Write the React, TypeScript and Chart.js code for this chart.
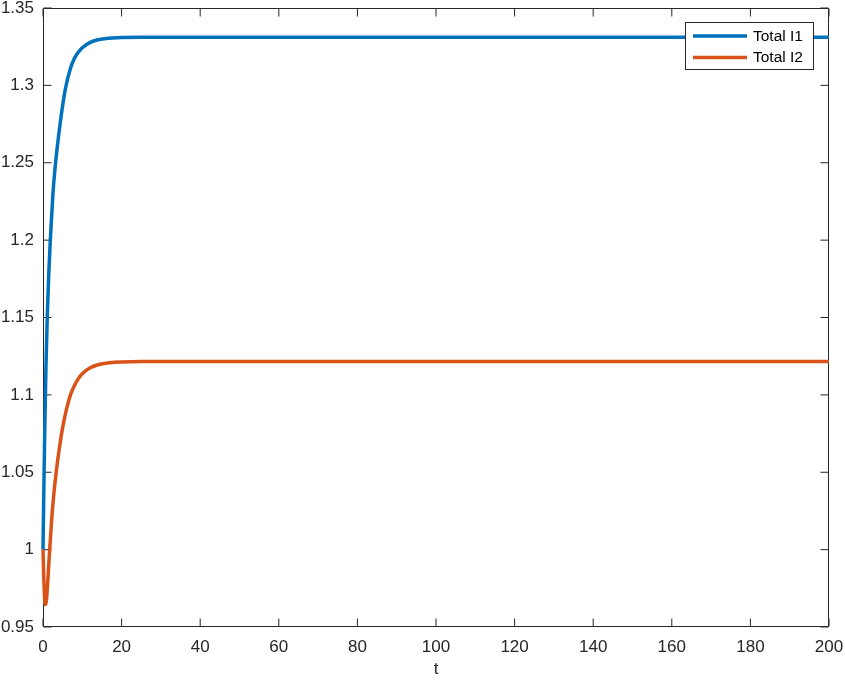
import React, { useEffect, useRef } from "react";
import { Chart, registerables } from "chart.js";

Chart.register(...registerables);

// ---- data ----
const seriesLabels = ["Total I1", "Total I2"];
const seriesColors = ["#0072BD", "#D95319"];

const tI1 = [0, 0.25, 0.5, 0.75, 1.1, 1.5, 1.86, 2.5, 3.2, 4, 5, 5.8, 7, 8, 9, 10, 12, 14, 17, 20, 25, 200];
const totalI1 = [1.0, 1.045, 1.085, 1.118, 1.152, 1.18, 1.2, 1.229, 1.25, 1.268, 1.287, 1.299, 1.311, 1.3175, 1.3215, 1.3243, 1.3278, 1.3295, 1.3305, 1.3309, 1.3311, 1.3311];

const tI2 = [0, 0.2, 0.4, 0.6, 0.8, 1.0, 1.3, 1.7, 2.2, 2.8, 3.4, 4.3, 5, 6, 7, 8, 9, 10, 12, 14, 17, 20, 25, 200];
const totalI2 = [1.0, 0.982, 0.969, 0.9645, 0.966, 0.971, 0.983, 1.0, 1.019, 1.037, 1.051, 1.068, 1.079, 1.091, 1.1, 1.106, 1.1105, 1.1137, 1.1175, 1.1195, 1.1208, 1.1213, 1.1216, 1.1216];

const xMin = 0;
const xMax = 200;
const xStep = 20;
const yMin = 0.95;
const yMax = 1.35;
const yStep = 0.05;
const xTitle = "t";

// ---- styles ----
const AXIS_COLOR = "#262626";
const FONT_FAMILY = "'Liberation Sans', Arial, Helvetica, sans-serif";
const TICK_LEN = 8;

const boxPlugin = {
  id: "matlabBox",
  beforeDatasetsDraw(chart: any) {
    const { ctx, chartArea } = chart;
    const { left, right, top, bottom } = chartArea;
    const xs = chart.scales.x;
    const ys = chart.scales.y;
    ctx.save();
    ctx.strokeStyle = AXIS_COLOR;
    ctx.lineWidth = 1;
    const l = Math.round(left) + 0.5;
    const r = Math.round(right) - 0.5;
    const t = Math.round(top) + 0.5;
    const b = Math.round(bottom) - 0.5;
    ctx.beginPath();
    ctx.rect(l, t, r - l, b - t);
    ctx.stroke();
    ctx.beginPath();
    xs.ticks.forEach((tk: any) => {
      const px = xs.getPixelForValue(tk.value);
      ctx.moveTo(px, b);
      ctx.lineTo(px, b - TICK_LEN);
      ctx.moveTo(px, t);
      ctx.lineTo(px, t + TICK_LEN);
    });
    ys.ticks.forEach((tk: any) => {
      const py = ys.getPixelForValue(tk.value);
      ctx.moveTo(l, py);
      ctx.lineTo(l + TICK_LEN, py);
      ctx.moveTo(r, py);
      ctx.lineTo(r - TICK_LEN, py);
    });
    ctx.stroke();
    ctx.restore();
  },
};

const legendPlugin = {
  id: "matlabLegend",
  afterDraw(chart: any) {
    const { ctx, chartArea } = chart;
    const boxW = 129;
    const boxH = 48;
    const x0 = Math.round(chartArea.right) - 15 - boxW;
    const y0 = Math.round(chartArea.top) + 14;
    ctx.save();
    ctx.fillStyle = "#ffffff";
    ctx.fillRect(x0, y0, boxW, boxH);
    ctx.strokeStyle = AXIS_COLOR;
    ctx.lineWidth = 1;
    ctx.strokeRect(x0 + 0.5, y0 + 0.5, boxW - 1, boxH - 1);
    ctx.font = `15.5px ${FONT_FAMILY}`;
    ctx.textBaseline = "middle";
    ctx.textAlign = "left";
    chart.data.datasets.forEach((ds: any, i: number) => {
      const y = y0 + 14 + i * 21.5;
      ctx.strokeStyle = ds.borderColor;
      ctx.lineWidth = 3.5;
      ctx.beginPath();
      ctx.moveTo(x0 + 8, y);
      ctx.lineTo(x0 + 62, y);
      ctx.stroke();
      ctx.fillStyle = "#000000";
      ctx.fillText(ds.label, x0 + 68, y + 0.5);
    });
    ctx.restore();
  },
};

export default function App() {
  const canvasRef = useRef<HTMLCanvasElement | null>(null);

  useEffect(() => {
    if (!canvasRef.current) return;
    const tickFont = { family: FONT_FAMILY, size: 17 };
    const chart = new Chart(canvasRef.current, {
      type: "line",
      data: {
        datasets: [
          {
            label: seriesLabels[0],
            data: tI1.map((t, i) => ({ x: t, y: totalI1[i] })),
            borderColor: seriesColors[0],
            backgroundColor: seriesColors[0],
            borderWidth: 3.5,
            pointRadius: 0,
            fill: false,
            cubicInterpolationMode: "monotone",
            clip: false as any,
            order: 1,
          },
          {
            label: seriesLabels[1],
            data: tI2.map((t, i) => ({ x: t, y: totalI2[i] })),
            borderColor: seriesColors[1],
            backgroundColor: seriesColors[1],
            borderWidth: 3.5,
            pointRadius: 0,
            fill: false,
            cubicInterpolationMode: "monotone",
            clip: false as any,
            order: 0,
          },
        ],
      },
      options: {
        animation: false,
        responsive: false,
        events: [],
        layout: { padding: { top: 8, right: 16, left: 0, bottom: 0 } },
        plugins: {
          legend: { display: false },
          tooltip: { enabled: false },
        },
        scales: {
          x: {
            type: "linear",
            min: xMin,
            max: xMax,
            ticks: {
              stepSize: xStep,
              font: tickFont,
              color: AXIS_COLOR,
              padding: 10,
              maxRotation: 0,
              autoSkip: false,
              callback: (v: any) => String(Number(Number(v).toFixed(2))),
            },
            grid: { display: false, drawTicks: false },
            border: { display: false },
            title: {
              display: true,
              text: xTitle,
              font: tickFont,
              color: AXIS_COLOR,
              padding: { top: 0, bottom: 0 },
            },
            afterFit: (s: any) => {
              s.height = 53;
              s.paddingLeft = 0;
              s.paddingRight = 0;
            },
          },
          y: {
            type: "linear",
            min: yMin,
            max: yMax,
            ticks: {
              stepSize: yStep,
              font: tickFont,
              color: AXIS_COLOR,
              padding: 9,
              autoSkip: false,
              callback: (v: any) => String(Number(Number(v).toFixed(2))),
            },
            grid: { display: false, drawTicks: false },
            border: { display: false },
            afterFit: (s: any) => {
              s.width = 43;
              s.paddingTop = 0;
              s.paddingBottom = 0;
            },
          },
        },
      },
      plugins: [boxPlugin, legendPlugin],
    });
    return () => chart.destroy();
  }, []);

  return (
    <div style={{ position: "absolute", left: 0, top: 0, width: 845, height: 680, background: "#ffffff" }}>
      <canvas ref={canvasRef} width={845} height={680} style={{ display: "block" }} />
    </div>
  );
}
